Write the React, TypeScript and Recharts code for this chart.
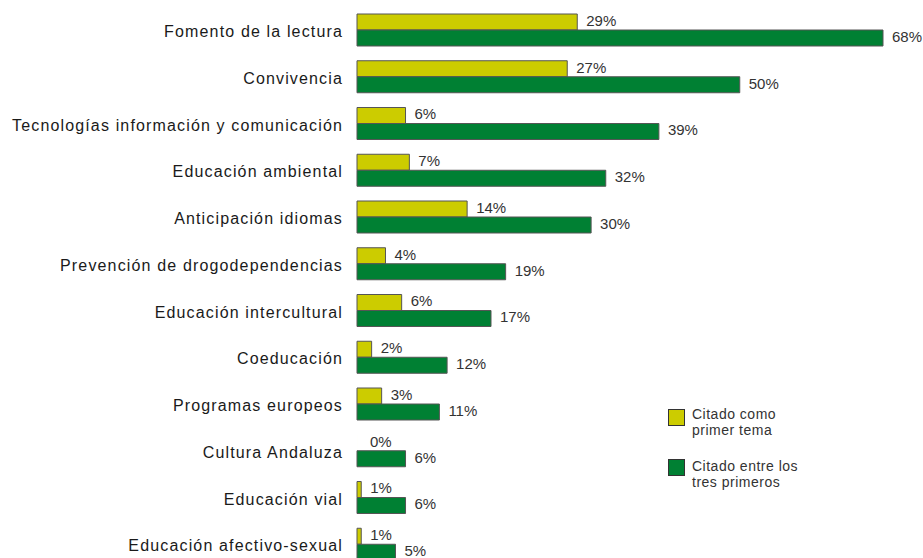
import React from 'react';
import { BarChart, Bar, XAxis, YAxis, LabelList, Legend, Cell } from 'recharts';

const categories = [
  'Fomento de la lectura',
  'Convivencia',
  'Tecnologías información y comunicación',
  'Educación ambiental',
  'Anticipación idiomas',
  'Prevención de drogodependencias',
  'Educación intercultural',
  'Coeducación',
  'Programas europeos',
  'Cultura Andaluza',
  'Educación vial',
  'Educación afectivo-sexual',
];

// Citado como primer tema (%)
const primerTema = [28.6, 27.3, 6.3, 6.8, 14.3, 3.7, 5.8, 1.9, 3.2, 0, 0.55, 0.55];
// Citado entre los tres primeros (%)
const tresPrimeros = [68.3, 49.7, 39.2, 32.3, 30.4, 19.3, 17.4, 11.7, 10.7, 6.3, 6.3, 5.0];

const seriesNames = ['Citado como primer tema', 'Citado entre los tres primeros'];
const legendLines = [
  ['Citado como', 'primer tema'],
  ['Citado entre los', 'tres primeros'],
];

const YELLOW = '#cccc00';
const GREEN = '#008033';
const FONT = '"Liberation Sans", Arial, sans-serif';

const data = categories.map((name, i) => ({
  name,
  primer: primerTema[i],
  tres: tresPrimeros[i],
}));

const fmt = (v: any) => `${Math.round(Number(v))}%`;

const PctLabel = (props: any) => {
  const { x, y, width, height, value } = props;
  if (value == null) return null;
  const v = Number(value);
  return (
    <text
      x={Number(x) + Number(width) + (v === 0 ? 13 : 9)}
      y={Number(y) + Number(height) / 2}
      dy="0.26em"
      fill="#333"
      fontSize={15}
      textAnchor="start"
    >
      {fmt(v)}
    </text>
  );
};

const LegendContent = () => {
  const colors = [YELLOW, GREEN];
  const tops = [0, 52];
  const sqOff = [3, 1];
  return (
    <div style={{ position: 'relative', width: 160, height: 100, fontFamily: FONT }}>
      {legendLines.map((lines, i) => (
        <div key={i} style={{ position: 'absolute', left: 0, top: tops[i], width: 160, height: 40 }}>
          <div
            style={{
              position: 'absolute',
              left: 0,
              top: sqOff[i],
              width: 15,
              height: 15,
              background: colors[i],
              border: '1px solid #333',
            }}
            title={seriesNames[i]}
          />
          <div
            style={{
              position: 'absolute',
              left: 24,
              top: 0,
              fontSize: 14,
              lineHeight: '16px',
              color: '#333',
              letterSpacing: 0.5,
              whiteSpace: 'nowrap',
            }}
          >
            {lines.map((l, j) => (
              <div key={j}>{l}</div>
            ))}
          </div>
        </div>
      ))}
    </div>
  );
};

export default function App() {
  return (
    <div style={{ position: 'fixed', left: 0, top: 0, width: 923, height: 558, overflow: 'hidden', background: '#fff' }}>
      <BarChart
        width={923}
        height={568}
        data={data}
        layout="vertical"
        margin={{ top: 7, right: 40, bottom: 0, left: 0 }}
        barGap={0}
        style={{ fontFamily: FONT }}
      >
        <XAxis type="number" domain={[0, 68.3]} hide />
        <YAxis
          type="category"
          dataKey="name"
          width={357}
          axisLine={false}
          tickLine={false}
          tickSize={6}
          tickMargin={8}
          interval={0}
          tick={{ fill: '#1a1a1a', fontSize: 16, letterSpacing: 1.15, dy: 1 }}
        />
        <Legend
          layout="vertical"
          align="center"
          verticalAlign="middle"
          wrapperStyle={{ left: 668, top: 406, width: 160, height: 100 }}
          content={() => <LegendContent />}
        />
        <Bar
          dataKey="primer"
          name={seriesNames[0]}
          fill={YELLOW}
          stroke="#555"
          strokeWidth={1}
          barSize={16}
          minPointSize={(v: any) => (Number(v) === 0 ? 0.01 : 0)}
          isAnimationActive={false}
        >
          {data.map((d, i) => (
            <Cell key={i} stroke={d.primer === 0 ? 'none' : '#555'} />
          ))}
          <LabelList dataKey="primer" content={PctLabel} />
        </Bar>
        <Bar dataKey="tres" name={seriesNames[1]} fill={GREEN} stroke="#555" strokeWidth={1} barSize={16} isAnimationActive={false}>
          <LabelList dataKey="tres" content={PctLabel} />
        </Bar>
      </BarChart>
    </div>
  );
}
